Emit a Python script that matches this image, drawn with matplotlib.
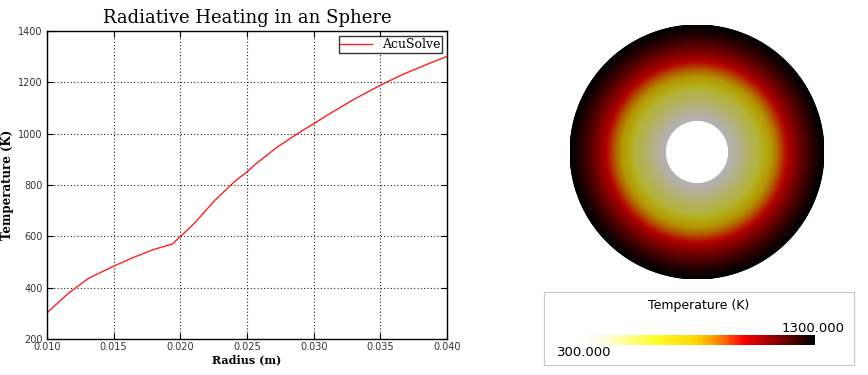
import numpy as np
import matplotlib
matplotlib.use('Agg')
import matplotlib.pyplot as plt
from matplotlib.colors import LinearSegmentedColormap, Normalize
from matplotlib.cm import ScalarMappable

# radius (m) vs temperature (K)
radius = [0.010, 0.0116, 0.0131, 0.0150, 0.0165, 0.0179, 0.0194, 0.0200, 0.0210,
          0.0226, 0.0241, 0.0250, 0.0257, 0.0273, 0.0290, 0.0300, 0.0315, 0.0330,
          0.0350, 0.0367, 0.0385, 0.0400]
temp = [302, 378, 436, 484, 518, 547, 570, 599, 648,
        741, 815, 851, 884, 949, 1007, 1039, 1087, 1133,
        1189, 1231, 1270, 1301]

t_min, t_max = 300.0, 1300.0
cmap_stops = [(0.0, '#ffffff'), (0.12, '#fffbe0'), (0.32, '#ffff30'), (0.50, '#ffd800'),
              (0.60, '#ff8000'), (0.70, '#ff0000'), (0.85, '#800000'), (1.0, '#000000')]

cmap = LinearSegmentedColormap.from_list('heat', cmap_stops)
# the 3D render is shaded, so the disc looks darker than the legend bar
shade = 0.70
cmap_dark = LinearSegmentedColormap.from_list(
    'heat_dark', [(p, tuple(shade * c for c in matplotlib.colors.to_rgb(col))) for p, col in cmap_stops])

W, H = 868, 375
fig = plt.figure(figsize=(W / 100, H / 100), dpi=100)

def px_axes(x0, y0, x1, y1):
    return fig.add_axes([x0 / W, 1 - y1 / H, (x1 - x0) / W, (y1 - y0) / H])

# ---- line plot
ax = px_axes(47, 31, 447, 339)
ax.plot(radius, temp, color='#ff2020', lw=1.0, label='AcuSolve')
ax.set_xlim(0.010, 0.040)
ax.set_ylim(200, 1400)
ax.set_xticks(np.arange(0.010, 0.0401, 0.005))
ax.set_xticklabels(['%.3f' % v for v in np.arange(0.010, 0.0401, 0.005)])
ax.set_yticks(range(200, 1401, 200))
ax.tick_params(direction='in', top=True, right=True, labelsize=7, length=4, pad=2,
               labelcolor='#333333')
ax.tick_params(axis='y', pad=3)
ax.grid(True, color='#222222', linestyle=(0, (1, 2)), linewidth=0.8)
for s in ax.spines.values():
    s.set_linewidth(1.0)
ax.set_title('Radiative Heating in an Sphere', family='DejaVu Serif', fontsize=13, pad=6)
ax.set_xlabel('Radius (m)', family='DejaVu Serif', fontweight='bold', fontsize=8, labelpad=2)
ax.set_ylabel('Temperature (K)', family='DejaVu Serif', fontweight='bold', fontsize=8.5, labelpad=3)
leg = ax.legend(loc='upper right', prop={'family': 'DejaVu Serif', 'size': 9},
                fancybox=False, borderpad=0.15, handlelength=2.5, borderaxespad=0.4)
leg.get_frame().set_edgecolor('black')

# ---- annulus coloured by temperature
ax2 = px_axes(570, 25, 824, 279)
th = np.linspace(0, 2 * np.pi, 361)
rr = np.linspace(radius[0], radius[-1], 120)
R, TH = np.meshgrid(rr, th)
T = np.interp(R, radius, temp)
ax2.pcolormesh(R * np.cos(TH), R * np.sin(TH), T, cmap=cmap_dark, vmin=t_min, vmax=t_max,
               shading='gouraud')
ax2.set_xlim(-0.04, 0.04)
ax2.set_ylim(-0.04, 0.04)
ax2.set_aspect('equal')
ax2.axis('off')

# ---- legend box with colour bar
box = px_axes(544, 292, 854, 365)
box.set_xticks([])
box.set_yticks([])
for s in box.spines.values():
    s.set_edgecolor('#c8c8c8')
fig.text(699 / W, 1 - 306 / H, 'Temperature (K)', ha='center', va='center', fontsize=9)
fig.text(845 / W, 1 - 328 / H, '%.3f' % t_max, ha='right', va='center', fontsize=9.5)
fig.text(557 / W, 1 - 352 / H, '%.3f' % t_min, ha='left', va='center', fontsize=9.5)

cax = px_axes(577, 335, 815, 345)
cb = fig.colorbar(ScalarMappable(norm=Normalize(t_min, t_max), cmap=cmap), cax=cax,
                  orientation='horizontal')
cb.set_ticks([])
cb.outline.set_visible(False)

fig.savefig('out.png', dpi=100)
